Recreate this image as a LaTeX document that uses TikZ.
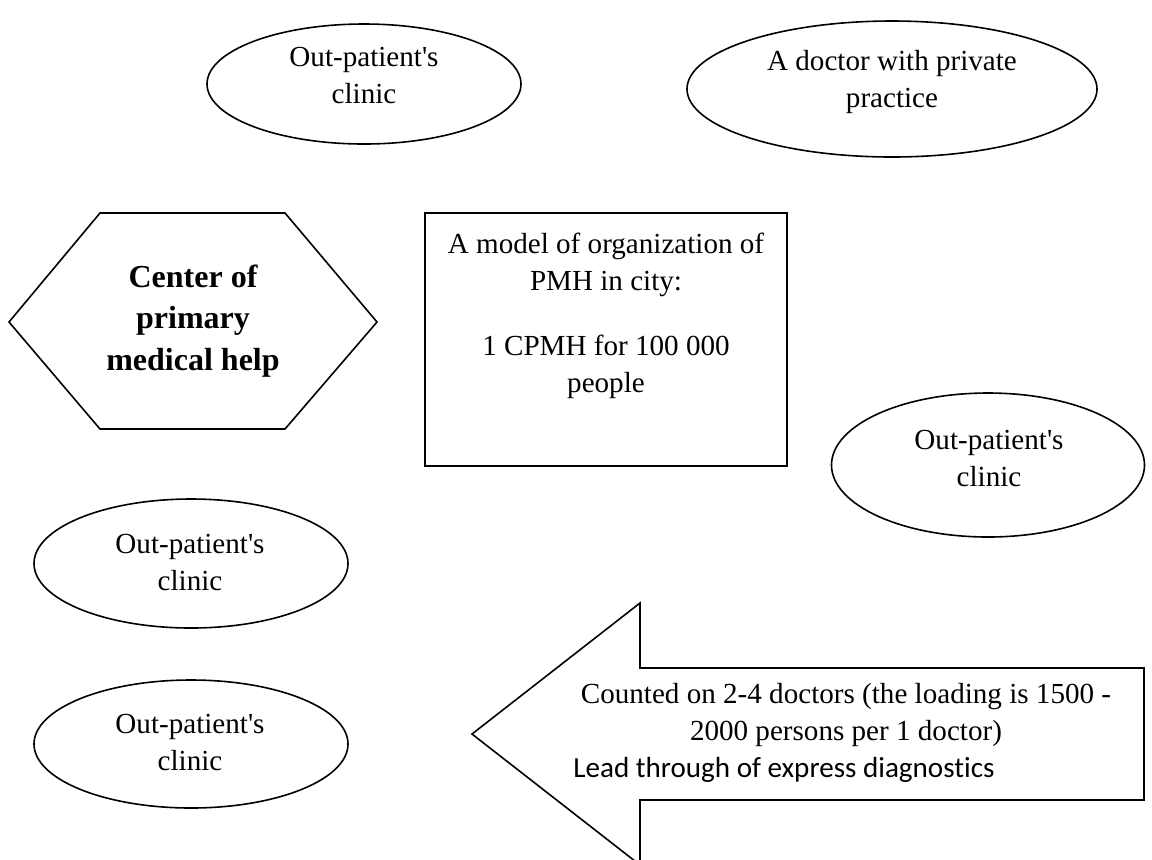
\documentclass[tikz,border=0pt]{standalone}
\usepackage{fontspec}
\setmainfont{Liberation Serif}
\newfontfamily\leadfont{Carlito}[Ligatures=NoCommon]
\usetikzlibrary{shapes.geometric}

% text sizes used in the scheme
\newcommand\bodysize{\fontsize{14.55pt}{18.5pt}\selectfont}
\newcommand\hexsize{\fontsize{16pt}{20.75pt}\selectfont\bfseries}
\newcommand\opclinic{Out-patient\textquotesingle s\\clinic}

\tikzset{
  outline/.style={draw=black, line width=0.8pt},
  clinic/.style={outline, ellipse, inner sep=0pt, outer sep=0pt},
  frame/.style={outline, rectangle, inner sep=0pt, outer sep=0pt},
  % base anchor of a multi-line label sits on its last line
  label/.style={font=\bodysize, align=center, anchor=base, inner sep=0pt},
}

\begin{document}
\begin{tikzpicture}[x=0.5pt, y=-0.5pt]
  \useasboundingbox (0,0) rectangle (1152,859);
  \clip (0,0) rectangle (1152,859);

  % ellipses
  \node[clinic, minimum width=157pt, minimum height=60pt]   (opc1) at (364,84)   {};
  \node[clinic, minimum width=205pt, minimum height=68pt]   (doc)  at (892,89)   {};
  \node[clinic, minimum width=156.5pt, minimum height=72pt] (opc2) at (988,465)  {};
  \node[clinic, minimum width=157pt, minimum height=64.5pt] (opc3) at (191,563.5){};
  \node[clinic, minimum width=157pt, minimum height=64pt]   (opc4) at (191,744)  {};

  \node[label] (opc1t) at (364,103) {\opclinic};
  \node[label] (doct)  at (892,107) {A doctor with private\\practice};
  \node[label] (opc2t) at (989,486) {\opclinic};
  \node[label] (opc3t) at (190,590) {\opclinic};
  \node[label] (opc4t) at (190,770) {\opclinic};

  % model box
  \node[frame, minimum width=181pt, minimum height=126.5pt] (model) at (606,339.5) {};
  \node[label] (modelt) at (606,392)
    {A model of organization of\\PMH in city:\\[14pt]1 CPMH for 100 000\\people};

  % hexagon of the centre
  \draw[outline, line join=miter]
    (9,322) -- (100,213) -- (285,213) -- (377,322) -- (285,429) -- (100,429) -- cycle;
  \node[label, font=\hexsize] (cpmh) at (193,370) {Center of\\primary\\medical help};

  % block arrow pointing left
  \draw[outline, line join=miter]
    (472,734) -- (640,603) -- (640,668) -- (1144,668) -- (1144,800)
    -- (640,800) -- (640,865) -- cycle;
  \node[label] (load) at (846,740)
    {Counted on 2-4 doctors (the loading is 1500 -\\2000 persons per 1 doctor)};
  \node[label, font=\leadfont\bodysize, anchor=base west] (lead) at (573,777)
    {Lead through of express diagnostics};
\end{tikzpicture}
\end{document}
